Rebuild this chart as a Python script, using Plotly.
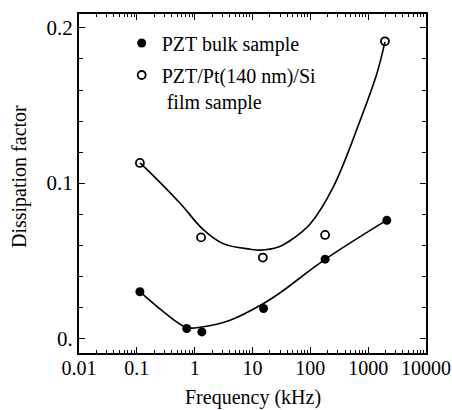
import plotly.graph_objects as go

# Measured points
bulk_freq = [0.113, 0.73, 1.33, 15.5, 180, 2100]
bulk_df = [0.030, 0.0063, 0.0041, 0.0192, 0.051, 0.076]
film_freq = [0.113, 1.29, 15.1, 180, 1950]
film_df = [0.113, 0.065, 0.052, 0.0666, 0.1914]

# Guide-line points
bulk_fit_freq = [0.113, 0.29, 0.73, 1.33, 4.1, 15.5, 30, 180, 2100]
bulk_fit_df = [0.030, 0.017, 0.0069, 0.0073, 0.0116, 0.0224, 0.0293, 0.0508, 0.0761]
film_fit_freq = [0.113, 0.19, 0.56, 1.41, 3.1, 9.1, 13.5, 28, 45, 99, 250, 730, 1420, 1950]
film_fit_df = [0.113, 0.105, 0.087, 0.070, 0.061, 0.0574, 0.0568, 0.0588, 0.063, 0.0737,
               0.0976, 0.1406, 0.1708, 0.191]

x_tickvals = [0.01, 0.1, 1, 10, 100, 1000, 10000]
x_ticktext = ["0.01", "0.1", "1", "10", "100", "1000", "10000"]
y_tickvals = [0, 0.1, 0.2]
y_ticktext = ["0.", "0.1", "0.2"]
x_title = "Frequency (kHz)"
y_title = "Dissipation factor"

FONT = "Liberation Serif"

fig = go.Figure()
fig.add_trace(go.Scatter(x=bulk_fit_freq, y=bulk_fit_df, mode="lines",
                         line=dict(color="black", width=1.6, shape="spline", smoothing=1),
                         showlegend=False, hoverinfo="skip"))
fig.add_trace(go.Scatter(x=film_fit_freq, y=film_fit_df, mode="lines",
                         line=dict(color="black", width=1.6, shape="spline", smoothing=1),
                         showlegend=False, hoverinfo="skip"))
fig.add_trace(go.Scatter(x=bulk_freq, y=bulk_df, mode="markers", name="PZT bulk sample",
                         legendgroup="a",
                         marker=dict(symbol="circle", size=9, color="black")))
fig.add_trace(go.Scatter(x=film_freq, y=film_df, mode="markers",
                         name="PZT/Pt(140 nm)/Si<br> film sample",
                         legendgroup="b",
                         marker=dict(symbol="circle-open", size=8, color="black",
                                     line=dict(width=1.8, color="black"))))

minor_x = [m * 10 ** e for e in range(-2, 4) for m in range(2, 10)]

fig.update_layout(
    width=452, height=410,
    margin=dict(l=79, r=26, t=14, b=57),
    paper_bgcolor="white", plot_bgcolor="white",
    font=dict(family=FONT, size=20, color="black"),
    legend=dict(x=0.123, y=0.972, xanchor="left", yanchor="top",
                bgcolor="rgba(0,0,0,0)", font=dict(family=FONT, size=20),
                tracegroupgap=3, valign="top", itemwidth=30),
    xaxis=dict(type="log", range=[-2, 4], tickvals=x_tickvals, ticktext=x_ticktext,
               ticks="inside", ticklen=6, tickwidth=1.2, tickcolor="black",
               showline=True, linecolor="black", linewidth=2, mirror="ticks",
               showgrid=False, zeroline=False, ticklabelstandoff=-4, automargin=False,
               minor=dict(tickvals=minor_x, ticks="inside", ticklen=3, tickcolor="black",
                          showgrid=False)),
    yaxis=dict(range=[-0.0095, 0.209], tickvals=y_tickvals, ticktext=y_ticktext,
               ticks="inside", ticklen=6, tickwidth=1.2, tickcolor="black",
               showline=True, linecolor="black", linewidth=2, mirror="ticks",
               showgrid=False, zeroline=False, automargin=False,
               tickfont=dict(family=FONT, size=21),
               minor=dict(dtick=0.02, tick0=0, ticks="inside", ticklen=4, tickcolor="black",
                          showgrid=False)),
    annotations=[
        dict(text=x_title, xref="paper", yref="paper", x=0.5, y=-0.13,
             xanchor="center", yanchor="middle", showarrow=False,
             font=dict(family=FONT, size=20)),
        dict(text=y_title, xref="paper", yref="paper", x=-0.173, y=0.522,
             xanchor="center", yanchor="middle", showarrow=False, textangle=-90,
             font=dict(family=FONT, size=20)),
    ],
)

fig.write_html("out.html")
